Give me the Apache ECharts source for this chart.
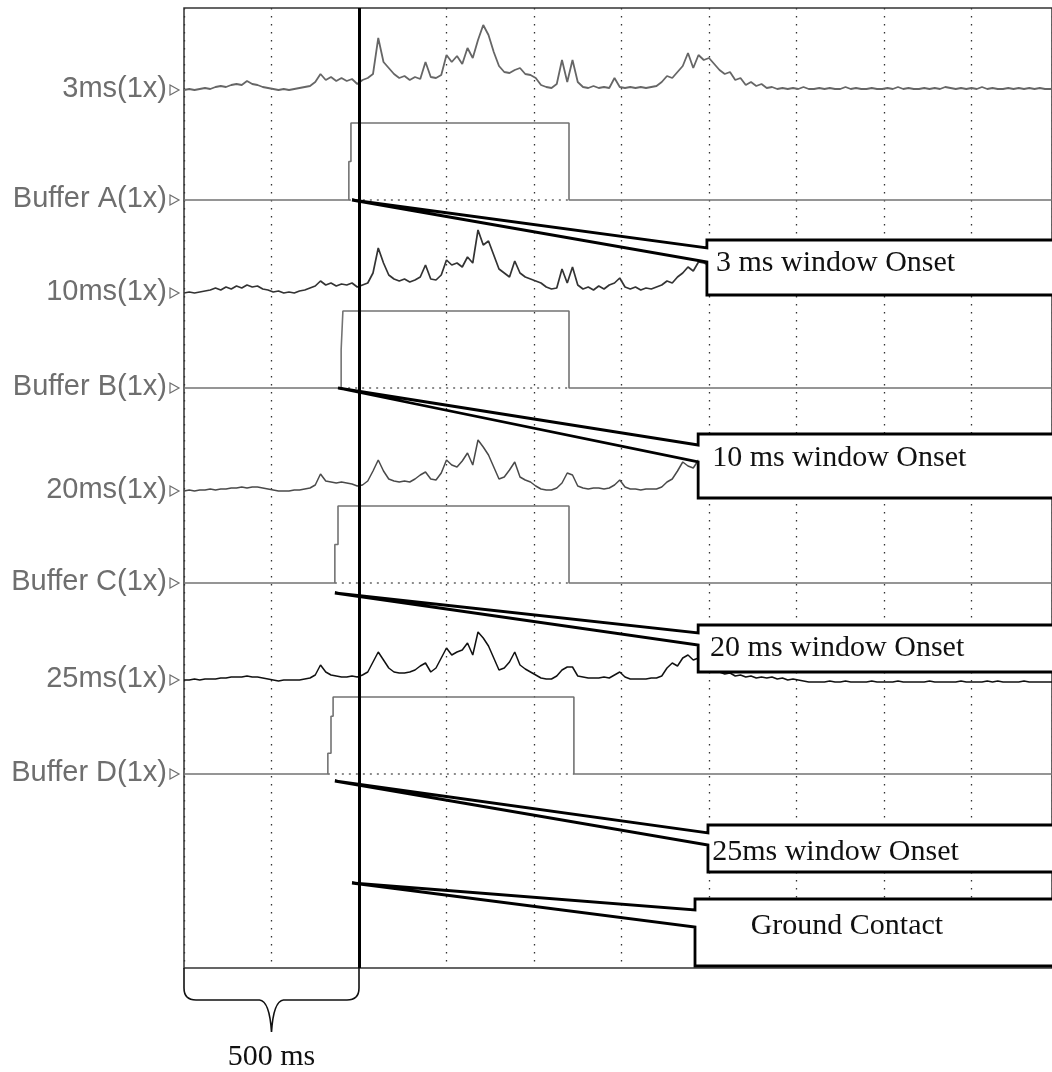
<!DOCTYPE html>
<html><head><meta charset="utf-8">
<script src="https://cdn.jsdelivr.net/npm/echarts/dist/echarts.min.js"></script>
<style>html,body{margin:0;padding:0;background:#fff}#c{width:1052px;height:1072px}</style>
</head><body><div id="c"></div>
<script>
// ---------------- DATA ----------------
const STEP_MS = 15; // sampling interval of the traces (ms)
const channelNames = ['3ms(1x)', 'Buffer A(1x)', '10ms(1x)', 'Buffer B(1x)', '20ms(1x)', 'Buffer C(1x)', '25ms(1x)', 'Buffer D(1x)'];

const trace3ms = [
 0,1,0,1,2,1,3,4,3,5, 6,5,9,6,5,3,2,1,0,1, 0,1,2,3,4,8,16,10,13,9, 12,9,11,6,10,12,16,52,28,22,
 16,12,14,10,13,11,28,13,12,15, 35,28,34,26,42,32,50,65,55,38, 24,18,17,20,22,16,15,12,5,3,
 2,6,30,8,30,8,3,2,4,2, 3,2,12,3,2,3,2,3,2,3, 4,8,14,12,18,24,37,22,35,30, 32,26,20,16,18,10,12,5,8,4,
 6,2,3,1,2,1,2,1,3,1, 1,2,1,2,1,1,3,1,2,1, 1,2,1,1,2,1,3,1,2,1, 1,2,1,2,1,3,2,1,2,1,
 2,1,3,1,2,1,1,2,1,2, 1,2,1,2,1,1,2];
const trace10ms = [
 0,1,0,1,2,3,5,3,6,4, 7,5,8,6,7,4,3,1,2,0, 1,0,2,3,5,7,12,8,10,7, 9,8,10,6,8,10,20,45,30,18,
 14,12,14,11,13,16,28,14,13,18, 33,28,30,26,36,30,63,48,52,38, 24,20,16,32,20,16,14,12,10,6,
 4,5,24,10,26,8,4,6,3,7, 4,8,10,15,6,4,6,3,5,4, 6,8,12,10,16,20,26,22,31,30, 28,20,14,10,8,6,5,4,3,2,
 2,1,2,1,2,1,1,2,1,2, 1,1,2,1,2,1,1,2,1,1, 2,1,1,2,1,1,2,1,1,2, 1,1,2,1,1,2,1,1,2,1,
 1,2,1,1,2,1,1,2,1,1, 2,1,1,2,1,1,2];
const trace20ms = [
 0,1,0,1,1,2,1,2,2,3, 3,4,3,4,4,3,2,1,0,0, 0,1,1,2,3,6,17,10,9,8, 9,8,7,5,6,10,20,31,20,12,
 10,9,10,9,12,16,19,12,11,18, 31,26,24,30,38,26,51,44,36,24, 12,14,21,29,14,11,9,5,2,1,
 1,3,8,18,16,5,3,2,3,3, 2,3,6,11,4,2,2,1,2,2, 2,4,9,12,20,29,25,23,31,28, 24,18,14,10,8,6,5,4,3,2,
 2,1,2,1,1,2,1,1,2,1, 1,2,1,1,2,1,1,2,1,1, 2,1,1,2,1,1,2,1,1,2, 1,1,2,1,1,2,1,1,2,1,
 1,2,1,1,2,1,1,2,1,1, 2,1,1,2,1,1,2];
const trace25ms = [
 0,0,1,0,1,1,1,2,2,3, 3,3,4,3,3,2,1,0,-1,0, 0,0,0,1,2,5,15,8,5,4, 3,3,4,3,5,8,18,28,20,12,
 8,7,7,8,10,14,17,8,12,22, 32,25,28,30,37,25,48,42,34,22, 10,12,18,28,15,11,8,5,2,1,
 1,4,10,13,13,4,3,2,2,2, 3,2,5,8,3,1,1,1,1,2, 2,4,12,17,14,22,25,20,22,18, 14,10,8,6,7,4,5,3,4,2,
 3,2,3,1,2,0,1,0,-1,-2, -2,-2,-2,-1,-2,-2,-1,-2,-2,-2, -2,-1,-2,-2,-2,-2,-1,-2,-2,-2, -2,-2,-1,-2,-2,-2,-2,-2,-1,-2,
 -2,-2,-2,-1,-2,-1,-2,-2,-2,-2, -1,-2,-2,-2,-2,-2,-2];

// buffers: step times (ms) and levels (0 = off, 1 = on)
const bufATimes = [0, 471, 471, 477, 477, 1100, 1100, 2500];
const bufALevels = [0, 0, 0.5, 0.5, 1, 1, 0, 0];
const bufBTimes = [0, 449, 449, 454, 454, 1100, 1100, 2500];
const bufBLevels = [0, 0, 0.5, 0.5, 1, 1, 0, 0];
const bufCTimes = [0, 431, 431, 440, 440, 1100, 1100, 2500];
const bufCLevels = [0, 0, 0.5, 0.5, 1, 1, 0, 0];
const bufDTimes = [0, 411, 411, 420, 420, 426, 426, 1114, 1114, 2500];
const bufDLevels = [0, 0, 0.27, 0.27, 0.75, 0.75, 1, 1, 0, 0];

const groundContactMs = 500;
const calloutText = ['3 ms window Onset', '10 ms window Onset', '20 ms window Onset', '25ms window Onset', 'Ground Contact'];
const calloutAnchorMs = [480, 440, 431, 431, 480];
const braceRangeMs = [0, 500];
const braceLabel = '500 ms';

// ---------------- LAYOUT ----------------
const X_MAX = 2480; // visible end of the time axis (ms)
const rowBase = [82, 192, 285, 380, 483, 575, 672, 766]; // baseline of each channel (axis units from top)
const BUF_H = 77;
// callout geometry: [anchorY, boxLeftMs, notch1Y, notch2Y, boxTopY, boxBottomY, textMs, textY, align]
const calloutGeom = [
  [192, 1494, 240, 254, 232, 287, 1520, 255, 'left'],
  [380, 1469, 437, 454, 426, 490, 1509, 450, 'left'],
  [585, 1469, 625, 637, 617, 664, 1503, 640, 'left'],
  [773, 1497, 825, 837, 817, 864, 1509, 844, 'left'],
  [875, 1460, 902, 919, 891, 958, 1894, 918, 'center']
];

const time = trace3ms.map((_, i) => i * STEP_MS);
const traceSeries = (vals, base, color, w) => ({
  type: 'line', showSymbol: false, animation: false, z: 3,
  data: vals.map((v, i) => [time[i], base - v]),
  lineStyle: { color: color, width: w }
});
const bufSeries = (ts, ls, base) => ({
  type: 'line', showSymbol: false, animation: false, z: 3,
  data: ts.map((t, i) => [t, base - BUF_H * ls[i]]),
  lineStyle: { color: '#737373', width: 1.6 }
});
const bufDotted = (ts, ls, base) => {
  const rise = ts[ls.findIndex(l => l > 0)];
  const fall = ts[ls.lastIndexOf(1)];
  return { type: 'line', showSymbol: false, animation: false, z: 2,
    data: [[rise, base], [fall, base]],
    lineStyle: { color: '#666', width: 1.4, type: [2, 5] } };
};

const chart = echarts.init(document.getElementById('c'));
const option = {
  animation: false,
  backgroundColor: '#fff',
  grid: { left: 184, top: 8, right: 0, height: 960, show: true, borderColor: '#333', borderWidth: 1.5 },
  xAxis: { type: 'value', min: 0, max: X_MAX, interval: 250,
    axisLine: { show: false }, axisTick: { show: false }, axisLabel: { show: false },
    splitLine: { show: true, lineStyle: { color: '#333', width: 1.3, type: [1.5, 6.5] } } },
  yAxis: { type: 'value', min: 0, max: 960, inverse: true,
    axisLine: { show: false }, axisTick: { show: false }, axisLabel: { show: false }, splitLine: { show: false } },
  series: [
    traceSeries(trace3ms, rowBase[0], '#666', 1.8),
    bufSeries(bufATimes, bufALevels, rowBase[1]),
    bufDotted(bufATimes, bufALevels, rowBase[1]),
    traceSeries(trace10ms, rowBase[2], '#333', 1.7),
    bufSeries(bufBTimes, bufBLevels, rowBase[3]),
    bufDotted(bufBTimes, bufBLevels, rowBase[3]),
    traceSeries(trace20ms, rowBase[4], '#4a4a4a', 1.5),
    bufSeries(bufCTimes, bufCLevels, rowBase[5]),
    bufDotted(bufCTimes, bufCLevels, rowBase[5]),
    traceSeries(trace25ms, rowBase[6], '#111', 1.5),
    bufSeries(bufDTimes, bufDLevels, rowBase[7]),
    bufDotted(bufDTimes, bufDLevels, rowBase[7]),
    { // ground contact line
      type: 'line', data: [], z: 6, silent: true,
      markLine: { silent: true, symbol: 'none', animation: false, label: { show: false },
        lineStyle: { color: '#000', width: 3, type: 'solid' }, data: [{ xAxis: groundContactMs }] }
    },
    { // channel labels
      type: 'custom', clip: false, z: 8, silent: true,
      data: channelNames.map((n, k) => [0, rowBase[k]]),
      renderItem: (params, api) => {
        const k = params.dataIndex;
        const p = api.coord([api.value(0), api.value(1)]);
        return { type: 'group', children: [
          { type: 'text', style: { text: channelNames[k], x: p[0] - 17, y: p[1] - 1,
              align: 'right', textAlign: 'right', verticalAlign: 'middle', textVerticalAlign: 'middle',
              font: '29px "Liberation Sans", Arial, sans-serif', fill: '#6e6e6e' } },
          { type: 'polygon', shape: { points: [[p[0] - 14, p[1] - 5], [p[0] - 14, p[1] + 5], [p[0] - 5, p[1]]] },
            style: { fill: '#fff', stroke: '#6e6e6e', lineWidth: 1.2 } }
        ] };
      }
    },
    { // callouts
      type: 'custom', clip: false, z: 10, silent: true,
      data: calloutText.map((t, i) => [calloutAnchorMs[i], calloutGeom[i][0]]),
      renderItem: (params, api) => {
        const k = params.dataIndex;
        const g = calloutGeom[k];
        const a = api.coord([api.value(0), api.value(1)]);
        const bx = api.coord([g[1], 0])[0];
        const R = api.coord([2600, 0])[0];
        const y = v => api.coord([0, v])[1];
        const n1 = y(g[2]), n2 = y(g[3]), top = y(g[4]), bot = y(g[5]);
        const tp = api.coord([g[6], g[7]]);
        return { type: 'group', children: [
          { type: 'rect', shape: { x: bx, y: top, width: R - bx, height: bot - top }, style: { fill: '#fff' } },
          { type: 'polygon', shape: { points: [a, [bx, n1], [bx, top], [R, top], [R, bot], [bx, bot], [bx, n2]] },
            style: { fill: null, stroke: '#000', lineWidth: 2.8, lineJoin: 'miter' } },
          { type: 'text', style: { text: calloutText[k], x: tp[0], y: tp[1],
              align: g[8], textAlign: g[8], verticalAlign: 'middle', textVerticalAlign: 'middle',
              font: '30px "Liberation Serif", "Times New Roman", serif', fill: '#111' } }
        ] };
      }
    },
    { // 500 ms brace
      type: 'custom', clip: false, z: 10, silent: true,
      data: [[braceRangeMs[0], braceRangeMs[1], 960]],
      encode: { x: [0, 1], y: 2 },
      renderItem: (params, api) => {
        const p0 = api.coord([api.value(0), api.value(2)]);
        const p1 = api.coord([api.value(1), api.value(2)]);
        const x0 = p0[0], x1 = p1[0], yb = p0[1], xm = (x0 + x1) / 2;
        const d = `M${x0} ${yb} L${x0} ${yb + 20} Q${x0} ${yb + 32} ${x0 + 12} ${yb + 32} L${xm - 12} ${yb + 32} Q${xm - 2} ${yb + 33} ${xm} ${yb + 64} Q${xm + 2} ${yb + 33} ${xm + 12} ${yb + 32} L${x1 - 12} ${yb + 32} Q${x1} ${yb + 32} ${x1} ${yb + 20} L${x1} ${yb}`;
        return { type: 'group', children: [
          { type: 'path', shape: { pathData: d }, style: { fill: null, stroke: '#111', lineWidth: 1.6 } },
          { type: 'text', style: { text: braceLabel, x: xm, y: yb + 89, align: 'center', textAlign: 'center',
              verticalAlign: 'middle', textVerticalAlign: 'middle',
              font: '30px "Liberation Serif", "Times New Roman", serif', fill: '#111' } }
        ] };
      }
    }
  ]
};
chart.setOption(option);
</script>
</body></html>
